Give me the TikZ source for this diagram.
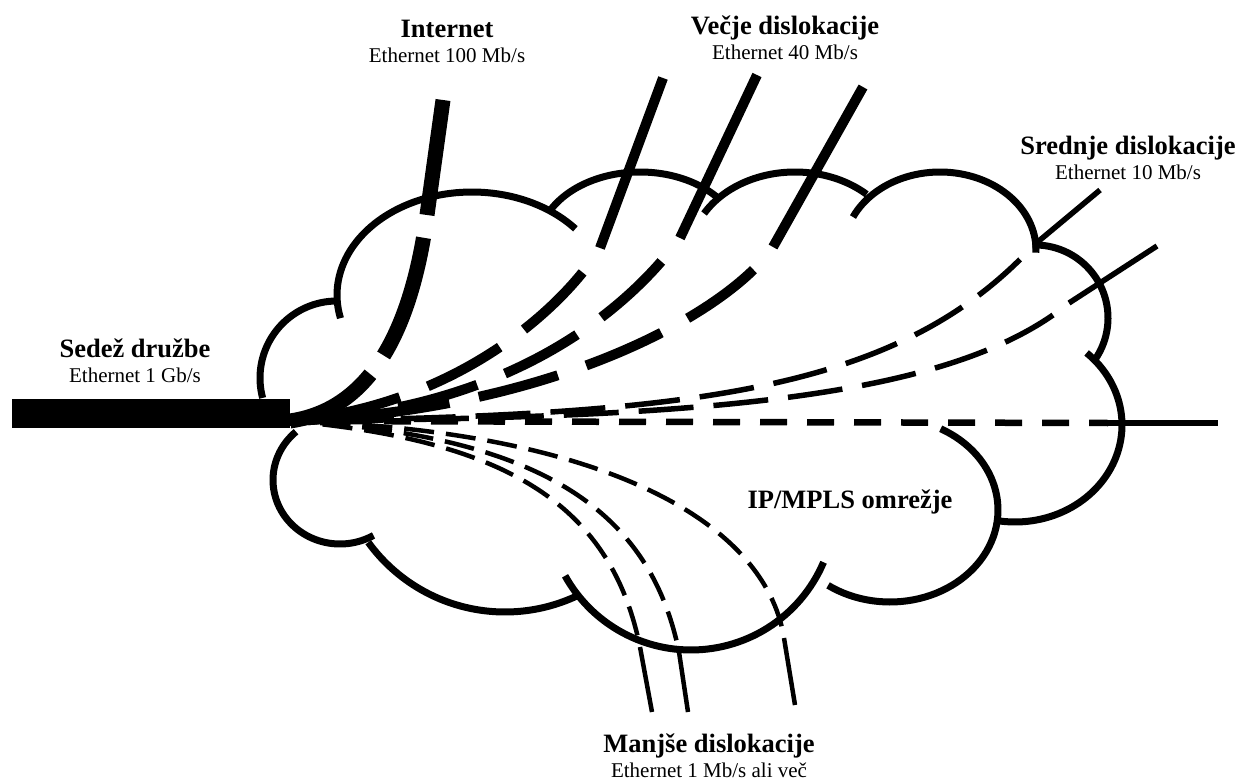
\documentclass[tikz,border=0pt]{standalone}
\usepackage{fontspec}
\setmainfont{Liberation Serif}
\usetikzlibrary{positioning}
\newcommand{\headfont}{\fontsize{26.5}{28}\selectfont\bfseries}
\newcommand{\ratefont}{\fontsize{21}{24}\selectfont}

\begin{document}
\begin{tikzpicture}[
    x=1pt, y=-1pt,
    head/.style={anchor=base, inner sep=0pt, font=\headfont},
    rate/.style={anchor=base, inner sep=0pt, font=\ratefont},
    cloudline/.style={line width=7pt},
    gbit/.style={line width=29pt},
    inetline/.style={line width=15pt},
    bigline/.style={line width=10pt},
    midline/.style={line width=5.5pt},
    horline/.style={line width=6.5pt},
    smallline/.style={line width=4.5pt},
    inetdash/.style={inetline, dash pattern=on 125pt off 23pt, dash phase=125pt},
    bigdash/.style={bigline, dash pattern=on 82pt off 30pt, dash phase=82pt},
    middash/.style={midline, dash pattern=on 55pt off 20pt, dash phase=55pt},
    hordash/.style={horline, dash pattern=on 27pt off 20pt},
    smalldash/.style={smallline, dash pattern=on 30pt off 12pt, dash phase=30pt}
  ]
    \path[use as bounding box, fill=white] (0,0) rectangle (1251,781);

    % Cloud
    \foreach \cx/\cy/\rx/\ry/\a/\b in {337/378/77/77/165/272, 472/295/135/103/167/320,
        640/245/102/73/208/321, 795/255/105/83/210/313, 940/250/96/78/205/362,
        1035/318/73/73/268/395, 1015/425/107/97/-48/98, 890/510/108/92/-62/125,
        691/506/144/144/23/151, 505/443/169/169/65/144, 340/480/67/64/60/229}
      \draw[cloudline] plot[domain=\a:\b, samples=60, variable=\t]
        ({\cx+\rx*cos(\t)}, {\cy+\ry*sin(\t)});
    \node (net) [head] at (850,508) {IP/MPLS omrežje};

    % Headquarters
    \coordinate (hq) at (290,421);
    \coordinate (hqleft) at (12,413);
    \node (hqttl) [head] at (135,357) {Sedež družbe};
    \node (hqrate) [rate, below=25pt of hqttl.base, anchor=base] {Ethernet 1 Gb/s};
    \draw[gbit] (hqleft) -- (hqleft -| hq);

    % Internet
    \coordinate (inetP) at (427,215);
    \coordinate (inetE) at (443,100);
    \node (inetttl) [head] at (447,38) {Internet};
    \node (inetrate) [rate, below=25pt of inetttl.base, anchor=base] {Ethernet 100 Mb/s};
    \draw[inetline] (inetP) -- (inetE);
    \draw[inetdash] (inetP) .. controls (410,340) and (365,410) .. (hq);

    % Larger sites
    \coordinate (vecAP) at (600,248); \coordinate (vecAE) at (663,78);
    \coordinate (vecBP) at (680,238); \coordinate (vecBE) at (757,75);
    \coordinate (vecCP) at (773,247); \coordinate (vecCE) at (863,87);
    \node (vecttl) [head] at (785,35) {Večje dislokacije};
    \node (vecrate) [rate, below=25pt of vecttl.base, anchor=base] {Ethernet 40 Mb/s};
    \draw[bigline] (vecAP) -- (vecAE);
    \draw[bigline] (vecBP) -- (vecBE);
    \draw[bigline] (vecCP) -- (vecCE);
    \draw[bigdash] (vecAP) .. controls (565,305) and (460,405) .. (hq);
    \draw[bigdash] (vecBP) .. controls (635,300) and (520,410) .. (hq);
    \draw[bigdash] (vecCP) .. controls (730,310) and (560,410) .. (hq);

    % Medium sites
    \coordinate (sredAP) at (1034,245); \coordinate (sredAE) at (1100,190);
    \coordinate (sredBP) at (1069,303); \coordinate (sredBE) at (1157,246);
    \coordinate (sredCP) at (1108,423); \coordinate (sredCE) at (1218,423);
    \node (sredttl) [head] at (1128,155) {Srednje dislokacije};
    \node (sredrate) [rate, below=25pt of sredttl.base, anchor=base] {Ethernet 10 Mb/s};
    \draw[midline] (sredAP) -- (sredAE);
    \draw[midline] (sredBP) -- (sredBE);
    \draw[horline] (sredCP) -- (sredCE);
    \draw[middash] (sredAP) .. controls (900,390) and (700,415) .. (hq);
    \draw[middash] (sredBP) .. controls (950,400) and (700,418) .. (hq);
    \draw[hordash] (hq) -- (sredCP);

    % Smaller sites
    \coordinate (manAP) at (640,647); \coordinate (manAE) at (652,712);
    \coordinate (manBP) at (679,652); \coordinate (manBE) at (688,712);
    \coordinate (manCP) at (784,638); \coordinate (manCE) at (795,705);
    \node (manttl) [head] at (709,752) {Manjše dislokacije};
    \node (manrate) [rate, below=25pt of manttl.base, anchor=base] {Ethernet 1 Mb/s ali več};
    \draw[smallline] (manAP) -- (manAE);
    \draw[smallline] (manBP) -- (manBE);
    \draw[smallline] (manCP) -- (manCE);
    \draw[smalldash] (manAP) .. controls (610,500) and (500,440) .. (hq);
    \draw[smalldash] (manBP) .. controls (650,510) and (540,435) .. (hq);
    \draw[smalldash] (manCP) .. controls (765,520) and (600,430) .. (hq);
  \end{tikzpicture}
\end{document}
